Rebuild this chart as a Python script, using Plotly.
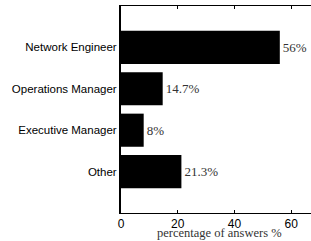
import plotly.graph_objects as go

categories = ["Network Engineer", "Operations Manager", "Executive Manager", "Other"]
values = [56, 14.7, 8, 21.3]
value_labels = ["56%", "14.7%", "8%", "21.3%"]
x_ticks = [0, 20, 40, 60]

fig = go.Figure(go.Bar(
    x=values, y=categories, orientation="h",
    marker=dict(color="black", line=dict(width=0)),
    width=0.8,
    text=value_labels, textposition="outside", cliponaxis=False,
    textfont=dict(family="Liberation Serif", size=13, color="#333"),
))

fig.update_layout(
    width=311, height=241,
    margin=dict(l=121, r=0, t=6, b=28, autoexpand=False),
    plot_bgcolor="white", paper_bgcolor="white",
    showlegend=False,
    xaxis=dict(
        range=[0, 67], tickvals=x_ticks, ticks="inside", ticklen=3,
        tickcolor="black", showline=True, linecolor="black", linewidth=1,
        mirror="ticks", showgrid=False, zeroline=False, automargin=False,
        tickfont=dict(family="Liberation Sans", size=12, color="black"),
    ),
    yaxis=dict(
        type="category", categoryorder="array", categoryarray=categories,
        range=[4, -1], showline=True, linecolor="black", linewidth=2,
        ticks="", showgrid=False, zeroline=False, ticklabelstandoff=0,
        automargin=False,
        tickfont=dict(family="Liberation Sans", size=11.5, color="black"),
    ),
    annotations=[dict(
        text="percentage of answers %", xref="paper", yref="paper",
        x=0.52, y=0, yanchor="middle", yshift=-20, showarrow=False,
        font=dict(family="Liberation Serif", size=12.5, color="#333"),
    )],
)

fig.write_html(
    "out.html",
    config={"displayModeBar": False},
    post_script="document.body.style.margin='0';document.body.style.overflow='hidden';",
)
